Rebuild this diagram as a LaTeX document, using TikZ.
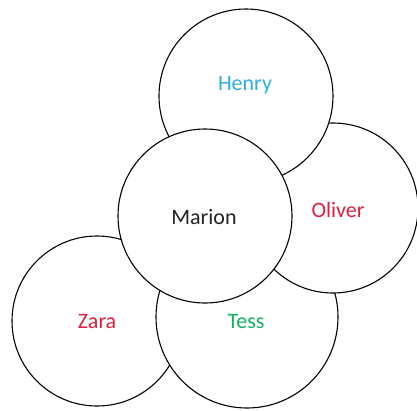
\documentclass[tikz,border=0pt]{standalone}
\usepackage{fontspec}
\setmainfont{Carlito}
\usepackage{tikz}
\definecolor{pbblue}{HTML}{2FAEE0}
\definecolor{pbred}{HTML}{E0203C}
\definecolor{pbgreen}{HTML}{12B060}
\definecolor{pbink}{HTML}{222222}
\tikzset{
  person/.style={circle, draw=black, fill=white, line width=1.1pt, inner sep=0pt},
  plabel/.style={font=\fontsize{22}{26}\selectfont, inner sep=1pt},
}

\begin{document}
\begin{tikzpicture}[x=1pt, y=-1pt]
  \useasboundingbox (0,0) rectangle (417,410);

  % back to front
  \node[person, minimum size=170pt] (zara) at (97,321) {};
  \node[person, minimum size=182pt] (tess) at (247,317) {};
  \node[person, minimum size=170pt] (oliver) at (333,208) {};
  \node[person, minimum size=174pt] (henry) at (246,96) {};
  \node[person, minimum size=174pt] (marion) at (205,216) {};

  \node[plabel, text=pbblue] (henrylbl) at (245,85) {Henry};
  \node[plabel, text=pbred] (oliverlbl) at (338,210) {Oliver};
  \node[plabel, text=pbink] (marionlbl) at (204,217) {Marion};
  \node[plabel, text=pbred] (zaralbl) at (97,322) {Zara};
  \node[plabel, text=pbgreen] (tesslbl) at (246,322) {Tess};
\end{tikzpicture}
\end{document}
